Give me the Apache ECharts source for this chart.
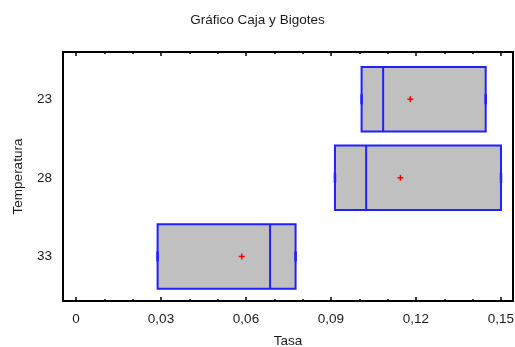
<!DOCTYPE html>
<html>
<head>
<meta charset="utf-8">
<script src="https://cdn.jsdelivr.net/npm/echarts@6/dist/echarts.min.js"></script>
<style>
  html, body { margin: 0; padding: 0; background: #fff; }
  #chart { width: 515px; height: 347px; }
</style>
</head>
<body>
<div id="chart"></div>
<script>
// Temperature groups (top to bottom) and their box statistics for "Tasa"
const categories = ['23', '28', '33'];
const q1Values     = [0.1008, 0.0914, 0.0288];
const medianValues = [0.1084, 0.1024, 0.0685];
const q3Values     = [0.1446, 0.1500, 0.0775];
const meanValues   = [0.1180, 0.1145, 0.0585];
const minValues    = [0.1008, 0.0914, 0.0288];
const maxValues    = [0.1446, 0.1500, 0.0775];

// Axis ticks
const majorTicks = [0, 0.03, 0.06, 0.09, 0.12, 0.15];
const minorTicks = [0.01, 0.02, 0.04, 0.05, 0.07, 0.08, 0.10, 0.11, 0.13, 0.14];

const FONT = '"Liberation Sans", Arial, sans-serif';
const FS = 13.5;
const TXT = '#1a1a1a';
const BLUE = '#1f1fff';
const X_MIN = -0.00459, X_MAX = 0.15424;
const Y_MIN = -0.600, Y_MAX = 2.566;
const BOX_HALF = 0.41;

const data = categories.map((c, i) => [i, q1Values[i], medianValues[i], q3Values[i], meanValues[i], minValues[i], maxValues[i]]);

function fmt(v) { return String(Math.round(v * 100) / 100).replace('.', ','); }

function xAxisDef(position, ticks, len, showLine, showLabel) {
  return {
    type: 'value', position: position, min: X_MIN, max: X_MAX,
    axisLine: { show: showLine, onZero: false, lineStyle: { color: '#000', width: 2 } },
    axisTick: { show: true, inside: true, length: len, customValues: ticks, lineStyle: { color: '#000', width: 1.5 } },
    axisLabel: showLabel ? { show: true, customValues: majorTicks, formatter: fmt, margin: 11,
      color: TXT, fontFamily: FONT, fontSize: FS } : { show: false },
    splitLine: { show: false }
  };
}

const xAxes = [
  Object.assign(xAxisDef('bottom', majorTicks, 4, true, true), {
    name: 'Tasa', nameLocation: 'middle', nameGap: 33,
    nameTextStyle: { color: TXT, fontFamily: FONT, fontSize: FS }
  }),
  xAxisDef('bottom', minorTicks, 2, false, false),
  xAxisDef('top', majorTicks, 4, true, false),
  xAxisDef('top', minorTicks, 2, false, false)
];

const chart = echarts.init(document.getElementById('chart'), null, { renderer: 'canvas' });
chart.setOption({
  animation: false,
  backgroundColor: '#fff',
  title: {
    text: 'Gráfico Caja y Bigotes', left: 'center', top: 8,
    textStyle: { color: TXT, fontFamily: FONT, fontSize: FS, fontWeight: 'normal' }
  },
  grid: { left: 63, top: 52, width: 450, height: 249, containLabel: false, outerBoundsMode: 'none' },
  xAxis: xAxes,
  yAxis: [
    {
      type: 'value', position: 'left', inverse: true, min: Y_MIN, max: Y_MAX,
      axisLine: { show: true, onZero: false, lineStyle: { color: '#000', width: 2 } },
      axisTick: { show: false },
      axisLabel: { customValues: [0, 1, 2], formatter: v => categories[Math.round(v)], margin: 11,
        color: TXT, fontFamily: FONT, fontSize: FS },
      splitLine: { show: false },
      name: 'Temperatura', nameLocation: 'middle', nameGap: 38, nameRotate: 90,
      nameTextStyle: { color: TXT, fontFamily: FONT, fontSize: FS }
    },
    {
      type: 'value', position: 'right', inverse: true, min: Y_MIN, max: Y_MAX,
      axisLine: { show: true, onZero: false, lineStyle: { color: '#000', width: 2 } },
      axisTick: { show: false }, axisLabel: { show: false }, splitLine: { show: false }
    }
  ],
  series: [{
    type: 'custom',
    xAxisIndex: 0, yAxisIndex: 0,
    data: data,
    renderItem: function (params, api) {
      const i = api.value(0);
      const q1 = api.value(1), med = api.value(2), q3 = api.value(3);
      const mean = api.value(4), mn = api.value(5), mx = api.value(6);
      const pTop = api.coord([q1, i - BOX_HALF]);
      const pBot = api.coord([q3, i + BOX_HALF]);
      const yc = api.coord([q1, i])[1];
      const x0 = pTop[0], x1 = pBot[0];
      const y0 = Math.min(pTop[1], pBot[1]), y1 = Math.max(pTop[1], pBot[1]);
      const xm = api.coord([med, i])[0];
      const xMean = api.coord([mean, i])[0];
      const xMin = api.coord([mn, i])[0];
      const xMax = api.coord([mx, i])[0];
      const cap = 5;
      return {
        type: 'group',
        children: [
          { type: 'rect', shape: { x: x0, y: y0, width: x1 - x0, height: y1 - y0 },
            style: { fill: '#c0c0c0', stroke: BLUE, lineWidth: 2 } },
          { type: 'line', shape: { x1: xm, y1: y0, x2: xm, y2: y1 },
            style: { stroke: BLUE, lineWidth: 2 } },
          { type: 'line', shape: { x1: xMin, y1: yc, x2: x0, y2: yc }, style: { stroke: BLUE, lineWidth: 1 } },
          { type: 'line', shape: { x1: x1, y1: yc, x2: xMax, y2: yc }, style: { stroke: BLUE, lineWidth: 1 } },
          { type: 'line', shape: { x1: xMin, y1: yc - cap, x2: xMin, y2: yc + cap }, style: { stroke: BLUE, lineWidth: 2.5 } },
          { type: 'line', shape: { x1: xMax, y1: yc - cap, x2: xMax, y2: yc + cap }, style: { stroke: BLUE, lineWidth: 2.5 } },
          { type: 'line', shape: { x1: xMean - 3, y1: yc, x2: xMean + 3, y2: yc }, style: { stroke: '#ff0000', lineWidth: 1.5 } },
          { type: 'line', shape: { x1: xMean, y1: yc - 3, x2: xMean, y2: yc + 3 }, style: { stroke: '#ff0000', lineWidth: 1.5 } }
        ]
      };
    }
  }]
});
</script>
</body>
</html>
